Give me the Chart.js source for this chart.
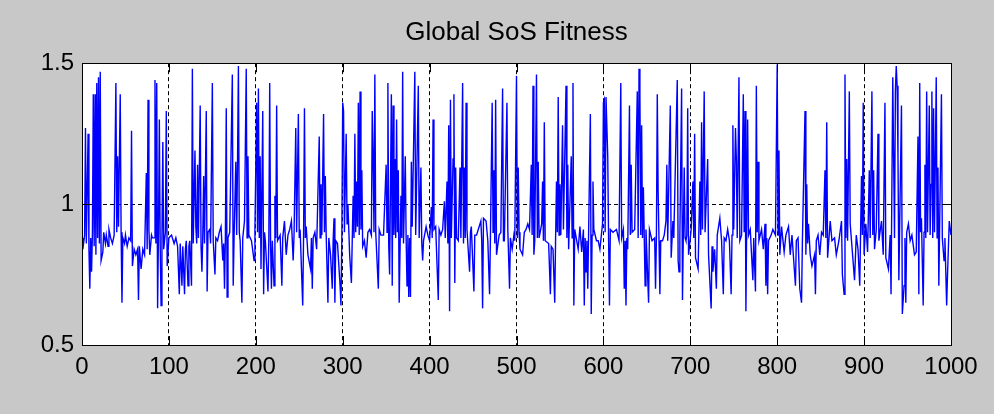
<!DOCTYPE html>
<html>
<head>
<meta charset="utf-8">
<title>Global SoS Fitness</title>
<script src="https://cdn.jsdelivr.net/npm/chart.js@4.4.0/dist/chart.umd.min.js"></script>
<style>
  html, body { margin: 0; padding: 0; background: #c8c8c8; }
  #wrap { width: 994px; height: 414px; }
</style>
</head>
<body>
<div id="wrap"><canvas id="fitnessChart" width="994" height="414"></canvas></div>
<script>
// --- data (iteration, fitness) ---
const xTicks = [0, 100, 200, 300, 400, 500, 600, 700, 800, 900, 1000];
const yTicks = [0.5, 1, 1.5];

const iteration = [
  0,1,3,4,5,7,8,9,10,11,
  12,13,14,15,16,17,18,19,20,21,
  22,24,25,27,28,30,31,33,35,37,
  39,40,41,42,43,44,45,46,47,49,
  50,52,54,56,57,58,60,62,64,65,
  66,68,70,72,74,75,76,77,78,80,
  81,83,84,85,86,87,88,89,90,91,
  92,93,94,96,97,98,100,103,106,108,
  110,112,113,115,116,118,119,120,122,123,
  124,126,127,128,130,131,132,133,134,136,
  137,138,139,140,141,143,144,145,147,148,
  150,151,153,154,156,158,160,162,163,164,
  165,166,167,
  168,170,173,174,175,177,178,179,180,181,
  182,184,185,187,189,190,191,192,195,198,
  199,201,202,203,204,205,206,208,209,210,
  211,214,215,216,217,218,219,221,222,223,
  224,225,228,230,231,233,235,237,239,241,
  243,244,246,247,249,250,251,254,255,256,
  257,258,260,263,264,265,266,268,270,273,
  274,275,276,278,279,280,281,283,284,286,
  288,289,290,291,292,294,297,298,299,300,
  301,302,304,305,306,308,310,312,313,314,
  315,316,317,318,319,320,321,322,323,325,
  327,329,331,
  333,334,335,336,337,338,341,342,344,347,
  350,351,352,353,354,356,357,358,359,360,
  361,362,363,364,365,367,368,369,370,372,
  373,374,375,376,377,378,379,380,383,384,
  387,388,390,391,392,393,396,398,400,402,
  403,404,405,407,410,411,413,415,417,418,
  420,421,422,423,424,425,427,428,429,430,
  431,433,435,436,438,439,440,441,442,443,
  446,447,448,451,452,454,456,459,460,461,
  462,465,467,469,470,472,473,474,475,476,
  477,480,482,484,485,486,489,490,492,493,
  495,497,
  498,500,501,502,503,504,507,509,511,513,
  515,517,518,519,520,521,523,524,525,526,
  529,530,531,532,533,537,539,540,542,544,
  545,546,547,548,549,550,551,553,554,557,
  558,559,560,563,564,565,566,567,571,573,
  575,577,578,579,580,581,582,583,585,586,
  587,588,589,592,594,596,599,600,601,602,
  603,605,606,607,608,611,615,618,620,621,
  623,624,625,626,627,628,630,631,632,633,
  636,639,640,641,642,643,644,645,646,648,
  649,652,653,656,659,660,661,662,663,664,
  665,666,668,670,672,673,674,677,678,680,
  681,683,685,686,687,688,690,691,692,693,
  694,695,696,697,698,701,703,704,705,706,
  709,711,712,713,714,716,717,720,721,724,
  725,726,728,730,731,734,736,738,739,741,
  743,745,747,748,749,750,752,753,754,756,
  757,759,761,762,763,764,766,767,769,772,
  773,775,776,777,778,779,782,784,786,787,
  788,789,790,793,795,798,800,801,802,803,
  805,808,810,813,815,817,819,821,822,824,
  826,828,829,832,833,834,835,
  836,838,840,843,844,845,847,849,851,853,
  855,856,857,858,861,863,866,868,871,874,
  875,877,878,879,880,881,883,884,887,889,
  891,893,895,897,898,899,900,902,904,906,
  907,909,910,911,912,914,916,917,920,922,
  924,925,928,930,931,933,934,935,936,937,
  938,939,940,943,944,946,947,948,949,951,
  953,955,958,960,962,963,964,965,966,968,
  969,970,971,972,973,975,976,977,978,979,
  980,981,982,983,984,985,986,989,990,992,
  993,995,996,998,1000
];

const fitness = [
  .88,.84,.89,1.27,.86,1.25,.84,.70,.88,.76,
  .90,1.39,.85,1.39,.82,1.43,.88,1.45,.86,1.47,
  .80,.83,.90,.86,.89,.85,.91,.88,.86,.89,
  1.43,.90,1.17,.92,1.16,1.39,.90,.65,.88,.86,
  .89,.85,.88,.87,1.26,.78,.84,.82,.84,.66,
  .85,.77,.84,.82,1.11,.84,1.37,.91,.82,.89,
  .88,.88,1.44,.86,1.43,.63,.90,1.30,.85,.64,
  .88,1.22,.84,.90,1.33,.78,.88,.89,.86,.88,
  .85,.68,.86,.71,.85,.68,.84,.87,.71,.85,
  .87,.71,1.48,.86,1.19,.92,.86,1.14,.88,1.35,
  .85,.76,.89,1.10,.86,1.33,.69,.90,.91,.86,
  1.43,.87,.75,.88,.87,.90,.92,.80,.86,.70,
  .88,1.34,.67,
  .88,.90,1.46,.71,.88,1.15,.89,1.16,1.49,.90,
  .87,.65,.88,.94,1.48,.88,1.17,.89,.87,.80,
  .91,1.36,.90,1.41,.88,1.17,.77,1.33,.68,.90,
  .87,.69,.88,1.43,.86,.70,.87,.71,1.03,.88,
  1.35,.87,.89,.71,.88,.94,.82,.89,.91,.94,
  .80,.89,1.27,.90,1.32,.88,.91,.64,.89,1.34,
  .88,.92,.82,.77,.88,.70,.88,.90,.84,1.24,
  .88,1.07,.89,1.32,.90,1.10,.89,.65,.88,.82,
  .70,.87,.95,.65,.87,.86,.71,.64,.88,1.36,
  1.33,.90,1.25,.93,1.00,.82,.72,1.03,.88,1.25,
  .90,1.08,.92,1.36,.89,1.40,.91,1.12,.85,.87,
  .81,.90,.91,
  .89,1.33,1.17,.90,1.46,.90,.70,.91,.89,.89,
  1.14,.90,1.43,.85,.75,1.39,.71,1.35,.89,1.16,
  .88,1.30,.90,1.12,.65,1.03,.88,1.47,.86,1.17,
  .88,.71,.89,.67,.88,.67,1.15,.92,1.47,.89,
  1.42,.88,1.13,.86,.80,.87,.92,.89,.87,.99,
  .88,1.30,.91,.92,.66,.91,.89,.91,1.01,.88,
  1.08,.86,1.28,.62,1.37,.88,1.16,1.39,.72,1.13,
  .88,.87,1.13,.88,1.43,.86,1.13,.88,1.36,.91,
  .76,.90,.92,.69,.89,.89,.91,.94,.87,.63,
  .95,.94,.87,.68,.88,1.36,.90,1.12,.86,1.37,
  .82,.89,.90,1.41,.87,.87,1.36,.91,.70,.88,
  .84,.89,
  .87,1.455,.88,1.13,.90,.84,.82,.90,.91,.93,
  .91,1.14,.89,1.42,.82,.87,1.46,.88,1.15,.88,
  .93,1.08,.87,1.29,.87,.86,.68,.85,.84,.65,
  .88,1.08,.90,1.38,.89,1.07,.89,1.28,.91,1.42,
  .88,1.14,.84,1.17,.88,1.43,.64,.91,.84,.92,
  .83,.91,.64,.88,.76,.87,.70,.90,1.32,.61,
  .89,1.08,.91,.87,.87,.84,.93,1.36,1.37,.90,
  1.38,1.17,.87,.64,.91,.90,.91,.87,1.43,.88,
  .91,.70,.87,.64,.88,.84,1.35,.89,1.14,.90,
  .91,1.40,.88,1.48,1.39,.89,1.28,.88,1.06,.71,
  .91,.65,.91,.87,.88,.70,.88,1.39,1.04,.87,
  .68,.87,.87,.89,.94,1.14,.87,1.35,.81,.94,
  .88,1.16,1.44,.80,.76,.89,1.41,.66,.90,1.13,
  .88,.87,.89,1.34,.82,.91,1.08,.88,1.25,.81,
  .77,1.08,.89,1.29,.91,1.40,.90,1.16,.82,.63,
  .85,.76,.84,.70,.89,.95,.87,.68,.88,.87,
  .91,.87,.68,.89,1.28,.91,1.27,1.16,.88,1.45,
  .87,.89,1.39,.90,1.33,.62,1.30,.89,.91,.73,
  .88,.69,1.42,.90,1.15,.87,.91,.84,.93,.71,
  .88,.68,.87,.89,.91,.89,1.495,.89,1.19,.82,
  .92,.83,.89,.92,.82,.89,.80,.71,.87,.88,
  .70,.65,.87,1.33,.82,1.07,.86,
  .93,.82,.78,.82,.68,.87,.89,.82,.90,.89,
  1.12,.88,1.29,.81,.94,.87,.88,.82,.87,.94,
  .75,.68,1.46,.88,1.16,.87,1.40,.93,.81,.73,
  .89,.84,.71,1.10,.89,1.36,.82,.93,.83,1.12,
  .88,1.40,.89,1.12,.84,.91,1.25,.87,.94,.82,
  1.36,.81,.77,.89,.68,1.45,1.16,.88,1.40,1.49,
  1.42,1.17,.73,1.35,.61,.71,.88,.65,.90,.93,
  .87,.89,.82,.83,1.24,.68,1.43,.90,.95,.64,
  .90,1.14,.88,1.40,.90,1.35,.89,1.07,1.40,.88,
  1.34,.90,1.16,1.45,.88,1.13,.71,1.39,.88,.80,
  .88,.64,.75,.94,.89
];

const FONT = '"Liberation Sans", Arial, Helvetica, sans-serif';

// 흰 플롯 영역, 테두리 박스, 안쪽 눈금 (MATLAB 스타일)
const axesBox = {
  id: "axesBox",
  // 제목을 플롯 영역 가운데에 맞춤
  afterLayout(chart) {
    const a = chart.chartArea;
    if (chart.titleBlock) {
      chart.titleBlock.left = a.left;
      chart.titleBlock.right = a.right;
    }
  },
  beforeDraw(chart) {
    const a = chart.chartArea;
    const ctx = chart.ctx;
    ctx.save();
    ctx.fillStyle = "#ffffff";
    ctx.fillRect(a.left, a.top, a.right - a.left, a.bottom - a.top);
    ctx.restore();
  },
  afterDraw(chart) {
    const a = chart.chartArea;
    const ctx = chart.ctx;
    const xs = chart.scales.x;
    const ys = chart.scales.y;
    const len = 9;
    ctx.save();
    ctx.strokeStyle = "#000";
    ctx.lineWidth = 1;
    ctx.beginPath();
    xTicks.forEach(v => {
      const px = Math.round(xs.getPixelForValue(v)) + 0.5;
      ctx.moveTo(px, a.bottom); ctx.lineTo(px, a.bottom - len);
      ctx.moveTo(px, a.top); ctx.lineTo(px, a.top + len);
    });
    yTicks.forEach(v => {
      const py = Math.round(ys.getPixelForValue(v)) + 0.5;
      ctx.moveTo(a.left, py); ctx.lineTo(a.left + len, py);
      ctx.moveTo(a.right, py); ctx.lineTo(a.right - len, py);
    });
    ctx.stroke();
    ctx.strokeRect(Math.round(a.left) + 0.5, Math.round(a.top) + 0.5,
      Math.round(a.right - a.left), Math.round(a.bottom - a.top));
    ctx.restore();
  }
};

const ctx = document.getElementById("fitnessChart").getContext("2d");
new Chart(ctx, {
  type: "line",
  data: {
    datasets: [{
      label: "Global SoS Fitness",
      data: iteration.map((x, i) => ({ x: x, y: fitness[i] })),
      borderColor: "#0000ff",
      borderWidth: 1.4,
      pointRadius: 0,
      tension: 0,
      fill: false
    }]
  },
  options: {
    responsive: false,
    animation: false,
    layout: { padding: { left: 0, right: 43, top: 0, bottom: 0 } },
    plugins: {
      legend: { display: false },
      tooltip: { enabled: false },
      title: {
        display: true,
        text: "Global SoS Fitness",
        color: "#000",
        font: { family: FONT, size: 26, weight: "normal" },
        padding: { top: 17, bottom: 15 }
      }
    },
    scales: {
      x: {
        type: "linear",
        min: 0,
        max: 1000,
        afterBuildTicks: s => { s.ticks = xTicks.map(v => ({ value: v })); },
        afterFit: s => { s.height = 69; },
        grid: { color: "#000", lineWidth: 1, drawTicks: false },
        border: { display: false, dash: [4, 3] },
        ticks: { color: "#000", font: { family: FONT, size: 24 }, padding: 8, maxRotation: 0, autoSkip: false,
                 callback: v => String(v) }
      },
      y: {
        type: "linear",
        min: 0.5,
        max: 1.5,
        afterBuildTicks: s => { s.ticks = yTicks.map(v => ({ value: v })); },
        afterFit: s => { s.width = 82; },
        grid: { color: "#000", lineWidth: 1, drawTicks: false },
        border: { display: false, dash: [4, 3] },
        ticks: { color: "#000", font: { family: FONT, size: 24 }, padding: 8,
                 callback: v => String(v) }
      }
    }
  },
  plugins: [axesBox]
});
</script>
</body>
</html>
